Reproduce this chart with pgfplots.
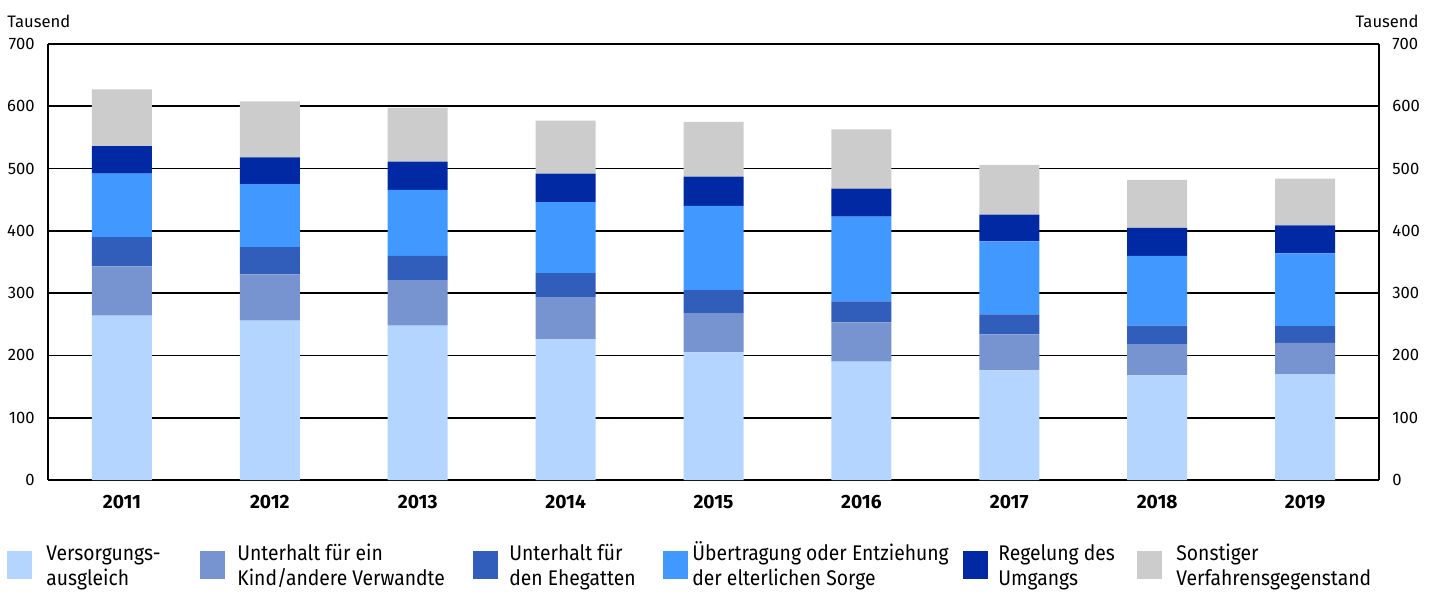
\documentclass[border=0pt]{standalone}
\usepackage{pgfplots}
\pgfplotsset{compat=1.18}
\usepackage{fontspec}
\setmainfont{Fira Sans}
\newfontfamily\legfam[FakeStretch=0.91]{Fira Sans}
\definecolor{cA}{HTML}{B3D5FF}
\definecolor{cB}{HTML}{7894D0}
\definecolor{cC}{HTML}{325EBB}
\definecolor{cD}{HTML}{4199FF}
\definecolor{cE}{HTML}{0029A3}
\definecolor{cF}{HTML}{CCCCCC}
\newcommand{\tickfont}{\fontsize{8.3}{10}\selectfont}
\newcommand{\yearfont}{\fontsize{9.6}{11}\selectfont\bfseries}
\newcommand{\legfont}{\legfam\fontsize{10.6}{12}\selectfont}
\begin{document}
\begin{tikzpicture}[x=1pt,y=1pt]
\useasboundingbox (0,0) rectangle (720,295.5);
\pgfplotsset{
  common/.style={
    at={(24pt,55.5pt)}, anchor=south west,
    scale only axis, width=665.5pt, height=218pt,
    xmin=-0.5, xmax=8.5, ymin=0, ymax=700,
    ytick={0,100,...,700},
    major tick length=0pt,
    /pgf/number format/assume math mode=true,
    tick label style={font=\tickfont},
    axis line style={line width=1.2pt, black},
  }
}
\begin{axis}[common,
  ybar stacked, bar width=30pt,
  axis x line*=bottom, axis y line*=left,
  xtick={0,...,8},
  xticklabels={2011,2012,2013,2014,2015,2016,2017,2018,2019},
  xticklabel style={font=\yearfont, inner sep=0pt, anchor=north, yshift=-7.5pt},
  yticklabel style={inner sep=0pt, anchor=east, xshift=-6.5pt},
  ymajorgrids, grid style={black, line width=0.9pt},
]
\addplot[fill=cA, draw=none] coordinates {(0,264) (1,256) (2,248) (3,226) (4,205) (5,190) (6,176) (7,168) (8,170)};
\addplot[fill=cB, draw=none] coordinates {(0,79) (1,74) (2,72) (3,67) (4,63) (5,63) (6,58) (7,50) (8,50)};
\addplot[fill=cC, draw=none] coordinates {(0,47) (1,44) (2,40) (3,39) (4,37) (5,34) (6,32) (7,30) (8,27)};
\addplot[fill=cD, draw=none] coordinates {(0,102) (1,101) (2,106) (3,114) (4,135) (5,136) (6,117) (7,112) (8,117)};
\addplot[fill=cE, draw=none] coordinates {(0,44) (1,43) (2,45) (3,46) (4,47) (5,45) (6,43) (7,45) (8,45)};
\addplot[fill=cF, draw=none] coordinates {(0,91) (1,90) (2,87) (3,85) (4,88) (5,95) (6,80) (7,77) (8,75)};
\end{axis}
\begin{axis}[common,
  axis x line=none, axis y line*=right,
  yticklabel style={inner sep=0pt, anchor=west, xshift=6.5pt},
]
\end{axis}
% units labels
\node[anchor=base west, inner sep=0pt, font=\tickfont] at (3.5,282) {Tausend};
\node[anchor=base east, inner sep=0pt, font=\tickfont] at (709.5,282) {Tausend};
% legend
\foreach \x/\c in {3.5/cA,100/cB,236.5/cC,331.5/cD,481.5/cE,568.5/cF}{
  \fill[\c] (\x,6) rectangle ++(12.5,14);
}
\begin{scope}[every node/.style={anchor=base west, inner sep=0pt, font=\legfont}]
\node at (23,15.5) {Versorgungs-};
\node at (23,3) {ausgleich};
\node at (118.5,15.5) {Unterhalt für ein};
\node at (118.5,3) {Kind/andere Verwandte};
\node at (254.5,15.5) {Unterhalt für};
\node at (254.5,3) {den Ehegatten};
\node at (346,15.5) {Übertragung oder Entziehung};
\node at (346,3) {der elterlichen Sorge};
\node at (499,15.5) {Regelung des};
\node at (499,3) {Umgangs};
\node at (588,15.5) {Sonstiger};
\node at (588,3) {Verfahrensgegenstand};
\end{scope}
\end{tikzpicture}
\end{document}
